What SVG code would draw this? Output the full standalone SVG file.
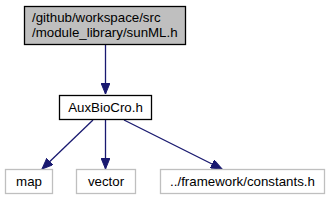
<svg xmlns="http://www.w3.org/2000/svg" width="329" height="201" viewBox="0 0 329 201">
<style>
text{font-family:"Liberation Sans",Arial,sans-serif;font-size:13.3px;fill:#000}
.c{text-anchor:middle}
.e{fill:none;stroke:#191970;stroke-width:1.3}
.g rect{fill:#fff;stroke:#bfbfbf;stroke-width:1.3}
</style>
<defs>
<marker id="ah" markerUnits="userSpaceOnUse" markerWidth="12" markerHeight="9" refX="11" refY="4.5" orient="auto">
<path d="M0,0 L11,4.5 L0,9 z" fill="#191970" stroke="#191970" stroke-width="1"/>
</marker>
</defs>
<g id="edges">
<path class="e" d="M105.5,45 L105.5,94" marker-end="url(#ah)"/>
<path class="e" d="M93,120 L42,169" marker-end="url(#ah)"/>
<path class="e" d="M105.5,120 L105.5,169" marker-end="url(#ah)"/>
<path class="e" d="M124,120 L222,169" marker-end="url(#ah)"/>
</g>
<g id="node1">
<rect x="24.5" y="6.5" width="161" height="38" fill="#bfbfbf" stroke="#000" stroke-width="1.3"/>
<text x="32" y="22">/github/workspace/src</text>
<text x="32" y="37">/module_library/sunML.h</text>
</g>
<g id="node2">
<rect x="59.5" y="95.5" width="92" height="24" fill="#fff" stroke="#000" stroke-width="1.3"/>
<text class="c" x="105.5" y="112">AuxBioCro.h</text>
</g>
<g id="node3" class="g">
<rect x="5.5" y="169.5" width="47" height="24"/>
<text class="c" x="29" y="186">map</text>
</g>
<g id="node4" class="g">
<rect x="76.5" y="169.5" width="59" height="24"/>
<text class="c" x="106" y="186">vector</text>
</g>
<g id="node5" class="g">
<rect x="160.5" y="169.5" width="164" height="24"/>
<text class="c" x="242.5" y="186">../framework/constants.h</text>
</g>
</svg>
